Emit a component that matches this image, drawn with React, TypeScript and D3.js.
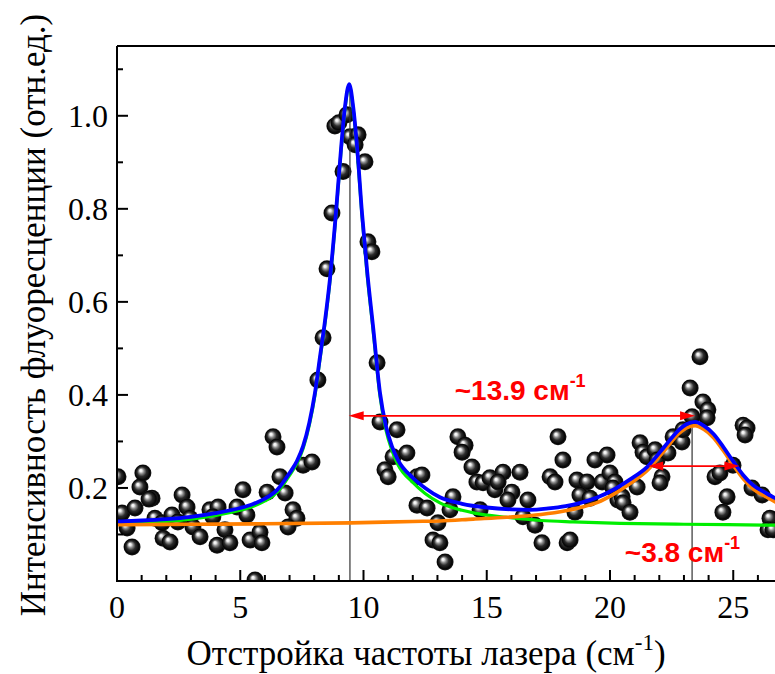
import React from "react";
import * as d3 from "d3";

// ---------- data ----------
const pointX = [0.04,0.2,0.41,0.61,0.73,0.93,1.05,1.42,1.3,1.54,1.83,1.87,2.15,2.23,2.64,2.84,2.47,2.96,3.08,3.37,3.77,4.1,3.89,4.38,4.06,4.58,4.87,5.11,5.27,5.4,5.8,5.88,5.6,6.09,6.61,6.82,6.33,6.49,7.14,7.3,6.94,7.55,7.91,8.15,8.36,8.52,8.72,8.84,9.0,9.33,9.17,9.45,9.78,9.66,10.06,10.18,10.34,10.55,10.67,11.36,11.2,11.76,10.87,11.0,12.17,12.37,12.17,12.58,13.02,12.82,13.1,13.31,13.83,14.12,14.0,14.4,14.6,14.85,15.13,15.33,15.66,16.02,15.86,16.35,15.46,16.67,13.63,13.51,14.73,16.47,16.96,17.24,17.57,17.77,17.89,18.09,18.26,18.38,18.66,19.07,18.78,19.19,18.58,19.39,19.88,19.68,20.0,20.2,20.32,20.12,20.49,20.53,20.81,21.1,21.22,21.34,21.5,21.83,21.91,22.11,22.03,22.35,22.56,22.92,22.96,23.25,23.33,23.65,23.77,23.97,23.94,24.26,24.46,24.99,24.75,24.58,25.4,25.56,25.48,25.76,26.17,26.49,26.41,26.61];
const pointY = [0.224,0.146,0.114,0.073,0.157,0.202,0.232,0.178,0.176,0.135,0.125,0.092,0.084,0.142,0.185,0.159,0.127,0.135,0.116,0.095,0.153,0.159,0.138,0.11,0.077,0.082,0.159,0.196,0.142,0.088,0.105,0.082,0.002,0.191,0.224,0.189,0.31,0.288,0.153,0.135,0.116,0.249,0.256,0.432,0.523,0.671,0.791,0.978,0.985,1.002,0.88,0.955,0.959,0.938,0.901,0.729,0.708,0.469,0.342,0.325,0.267,0.275,0.239,0.224,0.224,0.228,0.163,0.157,0.125,0.088,0.082,0.041,0.31,0.292,0.277,0.245,0.213,0.211,0.222,0.196,0.234,0.191,0.174,0.234,0.213,0.174,0.181,0.153,0.153,0.138,0.12,0.082,0.224,0.213,0.31,0.26,0.082,0.088,0.217,0.213,0.185,0.178,0.148,0.26,0.271,0.213,0.232,0.213,0.174,0.2,0.181,0.168,0.148,0.202,0.297,0.277,0.267,0.282,0.26,0.224,0.211,0.275,0.31,0.299,0.325,0.415,0.353,0.482,0.385,0.368,0.351,0.224,0.232,0.249,0.181,0.148,0.335,0.329,0.314,0.2,0.185,0.135,0.11,0.11];

// total fit (blue)
const blueX = [0,1,2,3,4,5,5.5,6,6.5,7,7.3,7.55,7.8,8.03,8.23,8.44,8.64,8.88,9.09,9.25,9.42,9.58,9.74,9.94,10.15,10.39,10.67,10.9,11.15,11.4,12,12.5,13.1,14,15,16,16.75,17.5,18.2,18.8,19.5,20.1,20.8,21.5,22.2,22.8,23.1,23.45,23.8,24.2,24.6,25,25.4,25.8,26.3,26.7,27.3,28];
const blueY = [0.128,0.13,0.133,0.138,0.146,0.157,0.165,0.177,0.196,0.232,0.258,0.29,0.34,0.404,0.48,0.56,0.65,0.79,0.93,1.02,1.068,1.02,0.933,0.79,0.665,0.546,0.404,0.335,0.29,0.26,0.222,0.2,0.18,0.166,0.158,0.154,0.153,0.156,0.161,0.168,0.18,0.195,0.218,0.245,0.288,0.325,0.337,0.342,0.334,0.316,0.288,0.257,0.228,0.206,0.19,0.178,0.163,0.15];
// first peak component (green)
const greenX = [0,1,2,3,4,5,5.5,6,6.5,7,7.3,7.55,7.8,8.03,8.23,8.44,8.64,8.88,9.09,9.25,9.42,9.58,9.74,9.94,10.15,10.39,10.67,10.9,11.15,11.4,12,12.5,13.1,14,14.5,15.8,17.2,18.5,20.4,23,26.7,28];
const greenY = [0.123,0.125,0.128,0.133,0.141,0.152,0.16,0.172,0.191,0.227,0.253,0.285,0.335,0.399,0.475,0.555,0.645,0.785,0.925,1.015,1.063,1.015,0.927,0.784,0.658,0.539,0.397,0.327,0.281,0.25,0.212,0.188,0.168,0.152,0.146,0.137,0.13,0.127,0.124,0.122,0.12,0.119];
// second peak component (orange)
const orangeX = [0,3,6,9.5,12,13.1,14.45,15.8,17.2,18.2,18.8,19.5,20.1,20.8,21.5,22.2,22.8,23.1,23.45,23.8,24.2,24.6,25,25.4,25.8,26.3,26.7,27.3,28];
const orangeY = [0.121,0.122,0.123,0.125,0.128,0.129,0.133,0.137,0.143,0.151,0.158,0.169,0.185,0.209,0.237,0.28,0.317,0.329,0.334,0.326,0.308,0.28,0.249,0.22,0.198,0.182,0.17,0.155,0.142];

// annotations
const markerX = [9.45, 23.33];
const markerTop = [1.07, 0.34];
const arrowX1 = [9.4, 21.55];
const arrowX2 = [23.45, 25.25];
const arrowY = [0.355, 0.247];
const labelText = ["~13.9 см", "~3.8 см"];
const labelX = [13.7, 20.6];
const labelY = [0.389, 0.041];

const xTicksMajor = [0, 5, 10, 15, 20, 25];
const yTicksMajor = [0.2, 0.4, 0.6, 0.8, 1.0];
const yTickLabels = ["0.2", "0.4", "0.6", "0.8", "1.0"];

const xTitle = "Отстройка частоты лазера (см";
const yTitle = "Интенсивность флуоресценции (отн.ед.)";

// ---------- layout ----------
const W = 775, H = 674;
const L = 117, T = 46, B = 581;
const R = L + 28 * 24.65;

export default function App() {
  const x = d3.scaleLinear().domain([0, 28]).range([L, R]);
  const y = d3.scaleLinear().domain([0, 1.15]).range([B, T]);

  const mk = (xs: number[], ys: number[]) =>
    d3.line<number>().x((_, i) => x(xs[i])).y((_, i) => y(ys[i])).curve(d3.curveMonotoneX)(xs) || "";

  const xMinor = d3.range(0, 29, 1).filter((v) => v % 5 !== 0);
  const yMinor = [0.1, 0.3, 0.5, 0.7, 0.9, 1.1];

  const serif = "'Liberation Serif', 'Times New Roman', serif";
  const sans = "'Liberation Sans', Arial, sans-serif";

  const arrowHead = (tipX: number, tipY: number, dir: number) => {
    const len = 15, hw = 4.5;
    return `M${tipX},${tipY} L${tipX - dir * len},${tipY - hw} L${tipX - dir * len},${tipY + hw} Z`;
  };

  return (
    <svg width={W} height={H} style={{ position: "absolute", left: 0, top: 0, background: "#fff" }}>
      <defs>
        <clipPath id="plot">
          <rect x={L} y={T} width={R - L} height={B - T} />
        </clipPath>
        <radialGradient id="ball" cx="0.5" cy="0.5" r="0.5" fx="0.36" fy="0.33">
          <stop offset="0" stopColor="#ffffff" />
          <stop offset="0.14" stopColor="#eeeeee" />
          <stop offset="0.32" stopColor="#8c8c8c" />
          <stop offset="0.55" stopColor="#2c2c2c" />
          <stop offset="0.85" stopColor="#050505" />
          <stop offset="1" stopColor="#1a1a1a" />
        </radialGradient>
      </defs>

      <g clipPath="url(#plot)">
        {pointX.map((px, i) => (
          <circle key={i} cx={x(px)} cy={y(pointY[i])} r={8.5} fill="url(#ball)" />
        ))}
        {markerX.map((mx, i) => (
          <line key={"m" + i} x1={x(mx)} x2={x(mx)} y1={y(markerTop[i])} y2={B} stroke="#333" strokeWidth={1.2} />
        ))}
        <path d={mk(greenX, greenY)} fill="none" stroke="#00ee00" strokeWidth={3.2} />
        <path d={mk(orangeX, orangeY)} fill="none" stroke="#ff7f00" strokeWidth={3.6} />
        <path d={mk(blueX, blueY)} fill="none" stroke="#0000ff" strokeWidth={3.8} />
      </g>

      {/* arrows */}
      {arrowX1.map((ax, i) => {
        const yy = y(arrowY[i]);
        const a = x(ax), b = x(arrowX2[i]);
        return (
          <g key={"a" + i}>
            <line x1={a + 10} x2={b - 10} y1={yy} y2={yy} stroke="#ff0000" strokeWidth={1.6} />
            <path d={arrowHead(a, yy, -1)} fill="#ff0000" />
            <path d={arrowHead(b, yy, 1)} fill="#ff0000" />
          </g>
        );
      })}
      {labelText.map((t, i) => (
        <text key={"l" + i} x={x(labelX[i])} y={y(labelY[i])} fontFamily={sans} fontWeight="bold" fontSize={28} fill="#ff0000">
          {t}
          <tspan fontSize={18} dy={-13}>-1</tspan>
        </text>
      ))}

      {/* axes frame */}
      <line x1={L} x2={R} y1={T} y2={T} stroke="#000" strokeWidth={2} />
      <line x1={L} x2={L} y1={T} y2={B + 1} stroke="#000" strokeWidth={2} />
      <line x1={L - 1} x2={R} y1={B} y2={B} stroke="#000" strokeWidth={2} />

      {xTicksMajor.map((v) => (
        <g key={"xt" + v}>
          <line x1={x(v)} x2={x(v)} y1={B} y2={B - 11} stroke="#000" strokeWidth={2} />
          <text x={x(v)} y={618} textAnchor="middle" fontFamily={serif} fontSize={32}>{v}</text>
        </g>
      ))}
      {xMinor.map((v) => (
        <line key={"xm" + v} x1={x(v)} x2={x(v)} y1={B} y2={B - 6} stroke="#000" strokeWidth={2} />
      ))}
      {yTicksMajor.map((v, i) => (
        <g key={"yt" + v}>
          <line x1={L} x2={L + 11} y1={y(v)} y2={y(v)} stroke="#000" strokeWidth={2} />
          <text x={108} y={y(v) + 11} textAnchor="end" fontFamily={serif} fontSize={32}>{yTickLabels[i]}</text>
        </g>
      ))}
      {yMinor.map((v) => (
        <line key={"ym" + v} x1={L} x2={L + 6} y1={y(v)} y2={y(v)} stroke="#000" strokeWidth={2} />
      ))}

      <text x={426} y={665} textAnchor="middle" fontFamily={serif} fontSize={35}>
        {xTitle}
        <tspan fontSize={23} dy={-15}>-1</tspan>
        <tspan dy={15}>)</tspan>
      </text>
      <text transform="translate(45,315) rotate(-90)" textAnchor="middle" fontFamily={serif} fontSize={35}>
        {yTitle}
      </text>
    </svg>
  );
}
